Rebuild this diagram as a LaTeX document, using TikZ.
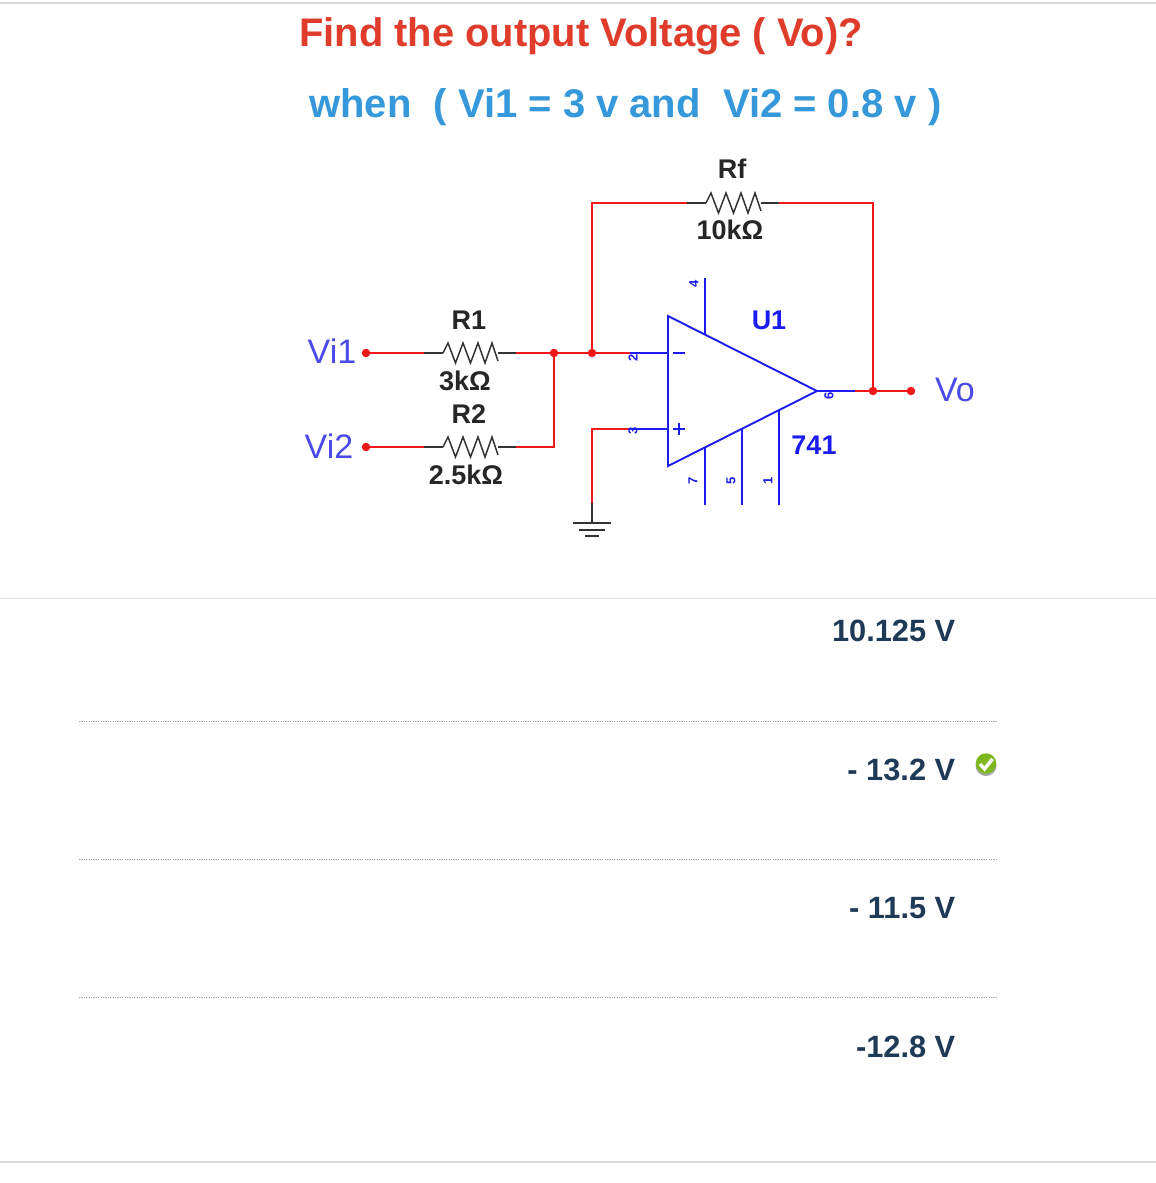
\documentclass[tikz,border=0pt]{standalone}
\usepackage{fontspec}
\setmainfont{Liberation Sans}
\definecolor{titlered}{HTML}{E03C2B}
\definecolor{subblue}{HTML}{3498DB}
\definecolor{navy}{HTML}{1F3A56}
\definecolor{wirered}{HTML}{F01818}
\definecolor{opblue}{HTML}{1C1CF0}
\definecolor{labblue}{HTML}{4A4AE8}
\definecolor{rulegray}{HTML}{DADADA}
\definecolor{okgreen}{HTML}{7FB81E}
\newcommand{\fs}[1]{\fontsize{#1}{#1}\selectfont}
\tikzset{
  x=1pt,y=-1pt,
  wire/.style={draw=wirered,line width=2.2pt},
  opline/.style={draw=opblue,line width=1.9pt},
  lead/.style={draw=black!80,line width=2pt},
  dotj/.style={circle,fill=wirered,inner sep=0pt,minimum size=8.5pt},
  titlet/.style={inner sep=0pt,anchor=base west,font=\fs{39.9}\bfseries,text=titlered},
  subt/.style={inner sep=0pt,anchor=base west,font=\fs{40}\bfseries,text=subblue},
  answer/.style={inner sep=0pt,anchor=base east,font=\fs{30.8}\bfseries,text=navy},
  complabel/.style={inner sep=0pt,font=\fs{27}\bfseries,text=black!85},
  oplabel/.style={inner sep=0pt,font=\fs{27}\bfseries,text=opblue},
  portlabel/.style={inner sep=0pt,font=\fs{34},text=labblue},
  pinlabel/.style={inner sep=0pt,font=\fs{13}\bfseries,text=opblue},
  divider/.style={draw=rulegray,line width=1.4pt},
  dotrule/.style={draw=black!35,line width=1pt,dash pattern=on 1.2pt off 1.2pt},
  pics/zigzag/.style={code={
    \draw[lead,line width=1.5pt,line join=miter] (0,0) -- (5,-10) -- (12.5,10) -- (20,-10) -- (27.5,10) -- (35,-10) -- (42,10) -- (49,-10) -- (55,8);
  }}
}
\begin{document}
\begin{tikzpicture}
\useasboundingbox (0,0) rectangle (1156,1183);
\fill[white] (0,0) rectangle (1156,1183);
% page rules
\coordinate (t1) at (0,3); \coordinate (t2) at (1156,3);
\coordinate (m1) at (0,598); \coordinate (m2) at (1156,598);
\coordinate (b1) at (0,1162); \coordinate (b2) at (1156,1162);
\draw[divider] (t1) -- (t2);
\draw[divider,line width=1pt,draw=black!10] (m1) -- (m2);
\draw[divider] (b1) -- (b2);
\foreach \yy in {721,859.5,997.5} \draw[dotrule] (79,\yy) -- (996,\yy);
% headings
\node[titlet] (title) at (299,46) {Find the output Voltage ( Vo)?};
\node[subt] (sub) at (309,117) {when\ \ ( Vi1 = 3 v and\ \ Vi2 = 0.8 v )};
% answers
\node[answer] (a1) at (955.5,641) {10.125 V};
\node[answer] (a2) at (955.5,780) {- 13.2 V};
\node[answer] (a3) at (955.5,918) {- 11.5 V};
\node[answer] (a4) at (955.5,1057) {-12.8 V};
% tick
\fill[black!35] (986,765.5) circle (10.5);
\node[circle,fill=okgreen,inner sep=0pt,minimum size=20.5pt] (tick) at (986,763.5) {};
\draw[white,line width=3.4pt] (980,764) -- (984.5,769) -- (992.5,759);
\fill[white] (996.5,750) rectangle (1002,780);
% op amp
\coordinate (opA) at (668,316);
\coordinate (opB) at (668,466);
\coordinate (opC) at (817,391);
\draw[opline,line join=miter] (opA) -- (opC) -- (opB) -- cycle;
% junctions and endpoints
\node[dotj] (vi1) at (366,353) {};
\node[dotj] (vi2) at (366,447) {};
\node[dotj] (j1) at (554,353) {};
\node[dotj] (j2) at (592,353) {};
\node[dotj] (j3) at (873,391) {};
\node[dotj] (vo) at (911,391) {};
% coordinates
\coordinate (r1a) at (424,353); \coordinate (r1z) at (443,353); \coordinate (r1y) at (498,353); \coordinate (r1b) at (516,353);
\coordinate (r2a) at (424,447); \coordinate (r2z) at (443,447); \coordinate (r2y) at (498,447); \coordinate (r2b) at (516,447);
\coordinate (rfa) at (687,203); \coordinate (rfz) at (706,203); \coordinate (rfy) at (761,203); \coordinate (rfb) at (779,203);
\coordinate (pin2) at (630,353); \coordinate (in2) at (668,353);
\coordinate (pin3) at (630,429); \coordinate (in3) at (668,429);
\coordinate (pin6) at (855,391);
\coordinate (gtop) at (592,503); \coordinate (g1) at (592,523);
% wires
\draw[wire] (vi1) -- (r1a);
\draw[wire] (r1b) -- (j1);
\draw[wire] (j1) -- (j2);
\draw[wire] (j2) -- (pin2);
\draw[wire] (vi2) -- (r2a);
\draw[wire,line join=miter] (r2b) -| (j1);
\draw[wire,line join=miter] (j2) |- (rfa);
\draw[wire,line join=miter] (rfb) -| (j3);
\draw[wire] (pin6) -- (j3);
\draw[wire] (j3) -- (vo);
\draw[wire,line join=miter] (pin3) -| (gtop);
% op amp pins
\draw[opline] (pin2) -- (in2);
\draw[opline] (pin3) -- (in3);
\draw[opline] (opC) -- (pin6);
\draw[opline] (705,278) -- (705,334);
\draw[opline] (705,447.5) -- (705,505);
\draw[opline] (742,428.5) -- (742,505);
\draw[opline] (779,410) -- (779,505);
\draw[opline] (673,353) -- (685,353);
\draw[opline] (673,429) -- (685,429);
\draw[opline] (679,423) -- (679,435);
% resistors
\draw[lead] (r1a) -- (r1z); \draw[lead] (r1y) -- (r1b);
\draw[lead] (r2a) -- (r2z); \draw[lead] (r2y) -- (r2b);
\draw[lead] (rfa) -- (rfz); \draw[lead] (rfy) -- (rfb);
\pic at (r1z) {zigzag};
\pic at (r2z) {zigzag};
\pic at (rfz) {zigzag};
% ground
\draw[lead] (gtop) -- (g1);
\draw[lead] (573,523) -- (611,523);
\draw[lead] (579,529.5) -- (605,529.5);
\draw[lead] (585,536) -- (599,536);
% labels
\node[complabel] (lr1) at (469,320) {R1};
\node[complabel] (lv1) at (465,381) {3kΩ};
\node[complabel] (lr2) at (469,414) {R2};
\node[complabel] (lv2) at (466,475) {2.5kΩ};
\node[complabel] (lrf) at (732,169) {Rf};
\node[complabel] (lvf) at (730,230) {10kΩ};
\node[oplabel] (lu1) at (769,320) {U1};
\node[oplabel] (l741) at (814,445) {741};
\node[portlabel] (lvi1) at (332,351) {Vi1};
\node[portlabel] (lvi2) at (329,446) {Vi2};
\node[portlabel] (lvo) at (955,390) {Vo};
\node[pinlabel,rotate=90] (p4) at (694,284) {4};
\node[pinlabel,rotate=90] (p7) at (693,481) {7};
\node[pinlabel,rotate=90] (p5) at (731,481) {5};
\node[pinlabel,rotate=90] (p1) at (768,481) {1};
\node[pinlabel,rotate=90] (p2) at (633,358) {2};
\node[pinlabel,rotate=90] (p3) at (633,431) {3};
\node[pinlabel,rotate=90] (p6) at (829,396) {6};
\end{tikzpicture}
\end{document}
